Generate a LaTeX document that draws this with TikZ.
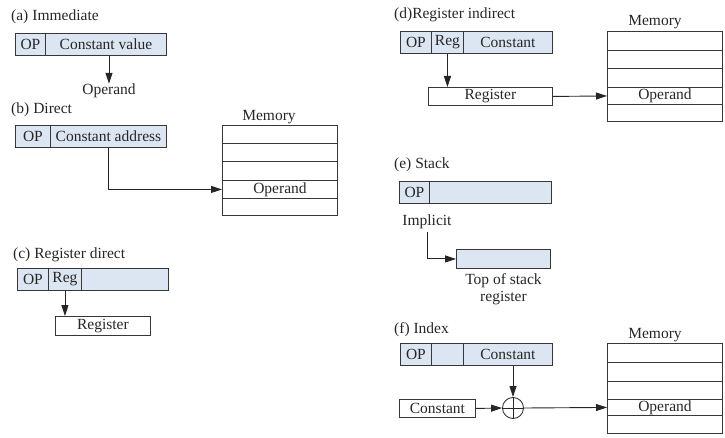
\documentclass[tikz,border=0pt]{standalone}
\usepackage{fontspec}
\setmainfont{Liberation Serif}
\usetikzlibrary{arrows.meta}
\definecolor{fieldblue}{RGB}{220,230,243}
\definecolor{linegray}{RGB}{55,55,55}

\begin{document}
\begin{tikzpicture}[x=1pt,y=-1pt,
  font=\fontsize{15.5}{17}\selectfont,
  every node/.style={inner sep=0pt, text=black!85},
  cell/.style={draw=linegray, line width=0.9pt, anchor=north west,
    minimum width=#1},
  field/.style={cell=#1, fill=fieldblue, minimum height=22pt},
  plainbox/.style={cell=#1, minimum height=19pt},
  memrow/.style={cell=115pt, minimum height=#1},
  caption/.style={anchor=west},
  arr/.style={draw=black!85, line width=0.9pt, -{Triangle[length=11pt,width=7pt]}},
  wire/.style={draw=black!85, line width=0.9pt}
]
\useasboundingbox (0,0) rectangle (725,438);

% (a) Immediate
\node[caption] (capa) at (11,17) {(a)\hspace{4pt}Immediate};
\node[field=30pt] (a1) at (15,33) {OP};
\node[field=121pt] (a2) at (45,33) {Constant value};
\node (opa) at (109,91) {Operand};
\draw[arr] (a2.south -| opa) -- (opa.north);

% (b) Direct
\node[caption] (capb) at (11,110) {(b)\hspace{4pt}Direct};
\node[field=35pt] (b1) at (15,125) {OP};
\node[field=116pt] (b2) at (50,125) {Constant address};
\node (memb) at (269,117) {Memory};
\node[memrow=18pt] (mb1) at (222,125) {};
\node[memrow=18pt] (mb2) at (222,143) {};
\node[memrow=19pt] (mb3) at (222,161) {};
\node[memrow=18pt] (mb4) at (222,180) {Operand};
\node[memrow=17pt] (mb5) at (222,198) {};
\draw[arr] (b2.south) |- (mb4.west);

% (c) Register direct
\node[caption] (capc) at (13,255) {(c) Register direct};
\node[field=31pt] (c1) at (17,268) {OP};
\node[field=33pt] (c2) at (48,268) {Reg};
\node[field=87pt] (c3) at (81,268) {};
\node[plainbox=95pt] (creg) at (55,316) {Register};
\draw[arr] (c2.south) -- (c2.south |- creg.north);

% (d) Register indirect
\node[caption] (capd) at (394,15) {(d)Register indirect};
\node[field=31pt] (d1) at (400,31) {OP};
\node[field=32pt] (d2) at (431,31) {Reg};
\node[field=89pt] (d3) at (463,31) {Constant};
\node[plainbox=124pt, minimum height=18pt] (dreg) at (428,87) {Register};
\draw[arr] (d2.south) -- (d2.south |- dreg.north);
\node (memd) at (655,22) {Memory};
\node[memrow=19pt] (md1) at (607,31) {};
\node[memrow=18pt] (md2) at (607,50) {};
\node[memrow=19pt] (md3) at (607,68) {};
\node[memrow=17pt] (md4) at (607,87) {Operand};
\node[memrow=17pt] (md5) at (607,104) {};
\draw[arr] (dreg.east) -- (md4.west);

% (e) Stack
\node[caption] (cape) at (394,165) {(e) Stack};
\node[field=30pt] (e1) at (399,181) {OP};
\node[field=122pt] (e2) at (429,181) {};
\node (impl) at (427,222) {Implicit};
\node[cell=94pt, fill=fieldblue, minimum height=19pt] (tos) at (456,249) {};
\node[align=center, anchor=north] (tosl) at ([yshift=-4pt]tos.south) {Top of stack\\register};
\draw[arr] ([yshift=-3pt]impl.south) |- (tos.west);

% (f) Index
\node[caption] (capf) at (394,330) {(f) Index};
\node[field=31pt] (f1) at (400,343) {OP};
\node[field=32pt] (f2) at (431,343) {};
\node[field=89pt] (f3) at (463,343) {Constant};
\node[plainbox=76pt, minimum height=18pt] (fconst) at (399,399) {Constant};
\node[draw=linegray, line width=0.9pt, circle, minimum size=21pt] (sum) at (513,408) {};
\draw[wire] (sum.north) -- (sum.south) (sum.west) -- (sum.east);
\draw[arr] (sum.north |- f3.south) -- (sum.north);
\draw[arr] (fconst.east) -- (sum.west);
\node (memf) at (655,335) {Memory};
\node[memrow=19pt] (mf1) at (607,343) {};
\node[memrow=19pt] (mf2) at (607,362) {};
\node[memrow=18pt] (mf3) at (607,381) {};
\node[memrow=16pt] (mf4) at (607,399) {Operand};
\node[memrow=18pt] (mf5) at (607,415) {};
\draw[arr] (sum.east) -- (mf4.west);
\end{tikzpicture}
\end{document}
